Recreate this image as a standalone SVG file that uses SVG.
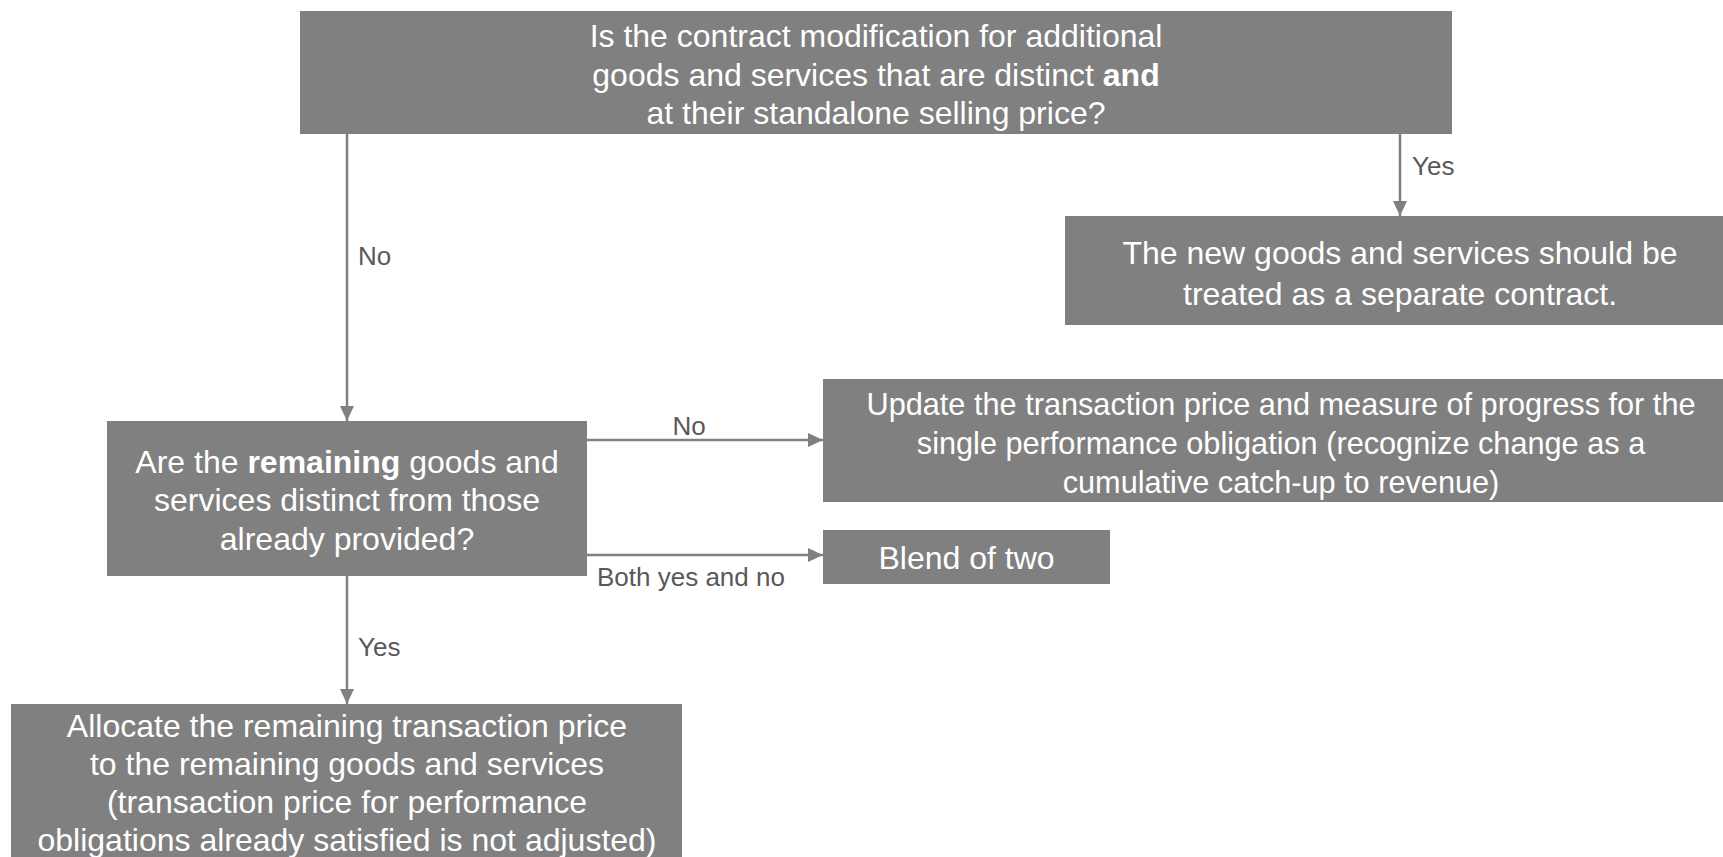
<svg xmlns="http://www.w3.org/2000/svg" width="1723" height="857" viewBox="0 0 1723 857">
<style>
.box{fill:#808080}
.t{font-family:"Liberation Sans",Arial,sans-serif;font-size:32px;fill:#ffffff;text-anchor:middle}
.s{font-size:30.7px}
.b{font-weight:bold}
.lbl{font-family:"Liberation Sans",Arial,sans-serif;font-size:26px;fill:#595959}
.c{stroke:#808080;stroke-width:2.5;fill:none;marker-end:url(#ah)}
</style>
<defs>
<marker id="ah" markerUnits="userSpaceOnUse" markerWidth="16" markerHeight="16" viewBox="0 0 16 16" refX="15" refY="8" orient="auto">
<path d="M0,1 L15,8 L0,15 Z" fill="#808080"/>
</marker>
</defs>
<rect width="1723" height="857" fill="#ffffff"/>
<g id="connectors">
<line class="c" x1="1400" y1="134" x2="1400" y2="216"/>
<line class="c" x1="347" y1="134" x2="347" y2="421"/>
<line class="c" x1="587" y1="440" x2="823" y2="440"/>
<line class="c" x1="587" y1="555" x2="823" y2="555"/>
<line class="c" x1="347" y1="576" x2="347" y2="704"/>
<text class="lbl" x="1412" y="175">Yes</text>
<text class="lbl" x="358" y="265">No</text>
<text class="lbl" x="689" y="435" text-anchor="middle">No</text>
<text class="lbl" x="597" y="586">Both yes and no</text>
<text class="lbl" x="358" y="656">Yes</text>
</g>
<g id="q1">
<rect class="box" x="300" y="11" width="1152" height="123"/>
<text class="t" x="876" y="47">Is the contract modification for additional</text>
<text class="t" x="876" y="85.5">goods and services that are distinct <tspan class="b">and</tspan></text>
<text class="t" x="876" y="124">at their standalone selling price?</text>
</g>
<g id="separate">
<rect class="box" x="1065" y="216" width="670" height="109"/>
<text class="t" x="1400" y="264">The new goods and services should be</text>
<text class="t" x="1400" y="305">treated as a separate contract.</text>
</g>
<g id="q2">
<rect class="box" x="107" y="421" width="480" height="155"/>
<text class="t" x="347" y="472.5">Are the <tspan class="b">remaining</tspan> goods and</text>
<text class="t" x="347" y="511">services distinct from those</text>
<text class="t" x="347" y="549.5">already provided?</text>
</g>
<g id="update">
<rect class="box" x="823" y="379" width="916" height="123"/>
<text class="t s" x="1281" y="415">Update the transaction price and measure of progress for the</text>
<text class="t s" x="1281" y="454">single performance obligation (recognize change as a</text>
<text class="t s" x="1281" y="493">cumulative catch-up to revenue)</text>
</g>
<g id="blend">
<rect class="box" x="823" y="530" width="287" height="54"/>
<text class="t" x="966.5" y="568.5">Blend of two</text>
</g>
<g id="allocate">
<rect class="box" x="11" y="704" width="671" height="170"/>
<text class="t" x="347" y="737">Allocate the remaining transaction price</text>
<text class="t" x="347" y="775">to the remaining goods and services</text>
<text class="t" x="347" y="813">(transaction price for performance</text>
<text class="t" x="347" y="851">obligations already satisfied is not adjusted)</text>
</g>
</svg>
